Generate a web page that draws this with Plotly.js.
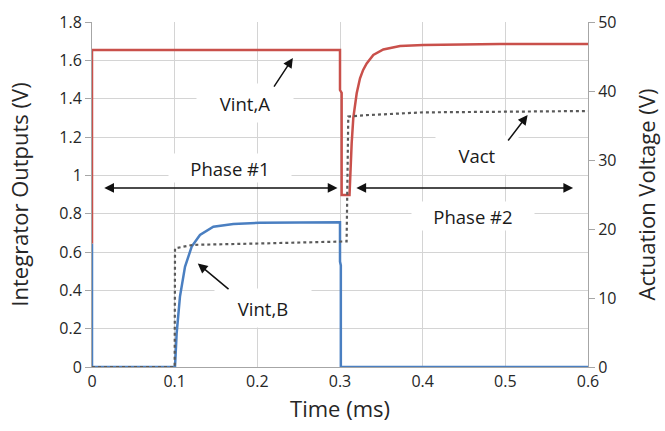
<!DOCTYPE html>
<html>
<head>
<meta charset="utf-8">
<script src="https://cdn.plot.ly/plotly-3.0.1.min.js"></script>
<style>html,body{margin:0;padding:0;background:#fff;}#chart{width:665px;height:431px;}</style>
</head>
<body>
<div id="chart"></div>
<script>
// Vint,A (left axis, V)
const timeA = [0, 0, 0.3, 0.3, 0.302, 0.302, 0.3115, 0.3125, 0.3141, 0.3161, 0.318, 0.3202, 0.3242, 0.328, 0.3323, 0.3403, 0.3524, 0.3726, 0.4008, 0.4935, 0.6];
const vintA = [0.645, 1.654, 1.654, 1.445, 1.43, 0.897, 0.897, 1.02, 1.167, 1.30, 1.375, 1.428, 1.506, 1.55, 1.584, 1.628, 1.657, 1.675, 1.680, 1.685, 1.685];
// Vint,B (left axis, V)
const timeB = [0, 0, 0.1004, 0.1024, 0.1064, 0.1125, 0.1206, 0.1306, 0.1468, 0.171, 0.2032, 0.3, 0.3, 0.301, 0.301, 0.6];
const vintB = [0.645, 0, 0, 0.176, 0.367, 0.523, 0.628, 0.689, 0.732, 0.746, 0.753, 0.755, 0.55, 0.53, 0, 0];
// Vact (right axis, V)
const timeV = [0, 0.1, 0.1004, 0.122, 0.203, 0.308, 0.310, 0.332, 0.4, 0.6];
const vact  = [0, 0, 17.2, 17.7, 17.9, 18.2, 36.3, 36.5, 36.9, 37.1];

const xTicks = [0, 0.1, 0.2, 0.3, 0.4, 0.5, 0.6];
const yTicks = [0, 0.2, 0.4, 0.6, 0.8, 1, 1.2, 1.4, 1.6, 1.8];
const y2Ticks = [0, 10, 20, 30, 40, 50];

const labelFont = {family: 'Open Sans, sans-serif', size: 18.5, color: '#1a1a1a'};
const tickFont = {family: 'Open Sans, sans-serif', size: 16, color: '#262626'};
const titleFont = {family: 'Open Sans, sans-serif', size: 22, color: '#262626'};

const traces = [
  {x: timeB, y: vintB, mode: 'lines', line: {color: '#4a7fc1', width: 2.5}, name: 'Vint,B', yaxis: 'y'},
  {x: timeA, y: vintA, mode: 'lines', line: {color: '#c9504b', width: 2.5}, name: 'Vint,A', yaxis: 'y'},
  {x: timeV, y: vact, mode: 'lines', line: {color: '#5a5a5a', width: 2.2, dash: 'dot'}, name: 'Vact', yaxis: 'y2'}
];

function label(text, x, y, w, h) {
  return {text: text, x: x, y: y, xref: 'x', yref: 'y', showarrow: false, font: labelFont,
          bgcolor: '#ffffff', width: w, height: h};
}
function arrow(x, y, ax, ay, both) {
  return {text: '', x: x, y: y, ax: ax, ay: ay, xref: 'x', yref: 'y', axref: 'x', ayref: 'y',
          showarrow: true, arrowhead: 2, arrowsize: 1.3, arrowwidth: 1.5, arrowcolor: '#111',
          arrowside: both ? 'end+start' : 'end', startarrowhead: 2, startarrowsize: 1.3, standoff: 0, startstandoff: 0};
}

const layout = {
  width: 665, height: 431,
  margin: {l: 92, r: 77, t: 22, b: 64},
  paper_bgcolor: '#ffffff', plot_bgcolor: '#ffffff',
  showlegend: false,
  xaxis: {
    range: [0, 0.6], tickvals: xTicks, ticktext: xTicks.map(String), showgrid: true, gridcolor: '#d4d4d4', gridwidth: 1,
    zeroline: false, showline: true, linecolor: '#a6a6a6', ticks: '', tickfont: tickFont,
    title: {text: 'Time (ms)', font: titleFont, standoff: 10}
  },
  yaxis: {
    range: [0, 1.8], tickvals: yTicks, ticktext: yTicks.map(String), showgrid: true, gridcolor: '#d4d4d4', gridwidth: 1,
    zeroline: false, showline: true, linecolor: '#a6a6a6', ticks: 'outside', ticklen: 6, tickcolor: '#a6a6a6',
    tickfont: tickFont,
    title: {text: 'Integrator Outputs (V)', font: titleFont, standoff: 24}
  },
  yaxis2: {
    range: [0, 50], tickvals: y2Ticks, ticktext: y2Ticks.map(String), overlaying: 'y', side: 'right', showgrid: false,
    zeroline: false, showline: true, linecolor: '#a6a6a6', ticks: 'outside', ticklen: 6, tickcolor: '#a6a6a6',
    tickfont: tickFont,
    title: {text: 'Actuation Voltage (V)', font: titleFont, standoff: 24}
  },
  annotations: [
    label('Vint,A', 0.185, 1.377, 94, 36),
    arrow(0.243, 1.612, 0.219, 1.455, false),
    label('Phase #1', 0.167, 1.04, 120, 26),
    arrow(0.297, 0.934, 0.013, 0.934, true),
    label('Phase #2', 0.461, 0.79, 120, 26),
    arrow(0.582, 0.934, 0.318, 0.934, true),
    label('Vact', 0.466, 1.106, 80, 36),
    arrow(0.527, 1.315, 0.502, 1.174, false),
    label('Vint,B', 0.207, 0.308, 94, 36),
    arrow(0.128, 0.54, 0.167, 0.40, false)
  ]
};

Plotly.newPlot('chart', traces, layout, {staticPlot: true, displayModeBar: false});
</script>
</body>
</html>
